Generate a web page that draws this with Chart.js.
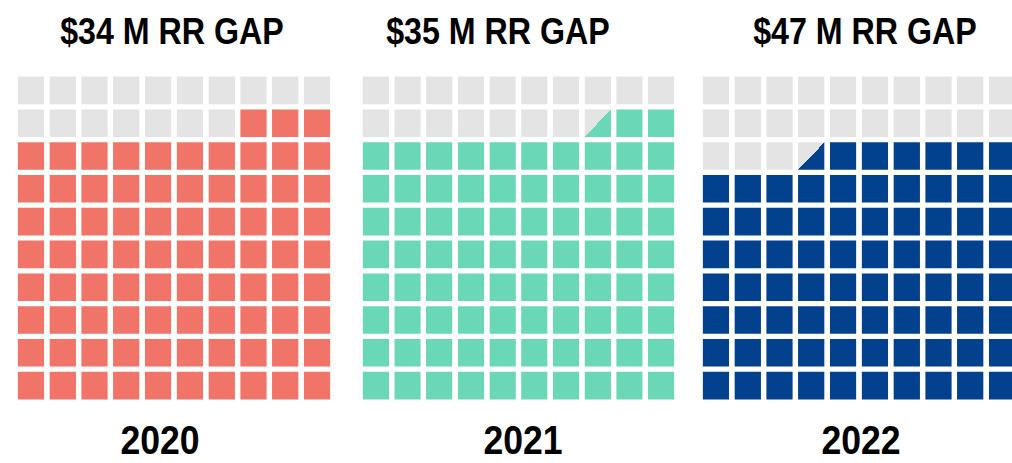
<!DOCTYPE html>
<html>
<head>
<meta charset="utf-8">
<script src="https://cdn.jsdelivr.net/npm/chart.js@4"></script>
<style>
  html, body { margin: 0; padding: 0; background: #fff; overflow: hidden; width: 1012px; height: 463px; }
  .wrap { position: absolute; }
  .lbl { position: absolute; width: 400px; text-align: center; font-family: "Liberation Sans", Arial, sans-serif; font-weight: bold; color: #000; white-space: nowrap; transform-origin: 50% 50%; }
  .title { font-size: 37px; line-height: 37px; transform: scaleX(0.87); }
  .year { font-size: 40px; line-height: 40px; transform: scaleX(0.89); }
</style>
</head>
<body>
<script>
// ---- data ----
const years = ["2020", "2021", "2022"];
const titles = ["$34 M RR GAP", "$35 M RR GAP", "$47 M RR GAP"];
const waffleValues = [83, 82.5, 76.5];   // filled cells out of 100
const seriesColors = ["#F07468", "#6AD8B6", "#02418E"];
const emptyColor = "#E4E4E4";
const columns = ["1", "2", "3", "4", "5", "6", "7", "8", "9", "10"];
const rowCount = 10;

// ---- layout (pixels) ----
const chartBoxes = [
  { left: 15, top: 74, width: 318, height: 328 },
  { left: 360, top: 74, width: 317, height: 328 },
  { left: 700, top: 74, width: 318, height: 328 }
];
const titleCenters = [172, 498, 865];
const yearCenters = [160, 523, 861];
const rowGap = 2.6;    // white border top/bottom of each cell
const barPct = 0.835;

function addLabel(text, cls, cx, top) {
  const d = document.createElement('div');
  d.className = 'lbl ' + cls;
  d.textContent = text;
  d.style.left = (cx - 200) + 'px';
  d.style.top = top + 'px';
  document.body.appendChild(d);
}

years.forEach((yr, gi) => {
  const box = chartBoxes[gi];
  const wrap = document.createElement('div');
  wrap.className = 'wrap';
  wrap.style.left = box.left + 'px';
  wrap.style.top = box.top + 'px';
  const cv = document.createElement('canvas');
  cv.width = box.width; cv.height = box.height;
  cv.style.width = box.width + 'px'; cv.style.height = box.height + 'px';
  wrap.appendChild(cv);
  document.body.appendChild(wrap);

  const value = waffleValues[gi];
  const color = seriesColors[gi];

  // cell order: fill from bottom row upward, right to left inside each row
  function cellRank(row, col) { return row * columns.length + (columns.length - 1 - col); }

  const datasets = [];
  for (let r = 0; r < rowCount; r++) {
    datasets.push({
      label: 'row ' + (r + 1),
      data: columns.map(() => 1),
      stack: 'waffle',
      borderColor: '#ffffff',
      borderWidth: { top: rowGap, bottom: rowGap, left: 0, right: 0 },
      borderSkipped: false,
      borderRadius: 0,
      backgroundColor: (ctx) => {
        const col = ctx.dataIndex;
        const k = cellRank(r, col);
        if (value >= k + 1) return color;
        if (value <= k) return emptyColor;
        // partial cell: diagonal split (lower-right triangle filled)
        const chart = ctx.chart;
        const xs = chart.scales.x, ys = chart.scales.y;
        if (!xs || !ys || !chart.chartArea) return emptyColor;
        const cw = (chart.chartArea.right - chart.chartArea.left) / columns.length * barPct;
        const cx = xs.getPixelForValue(col);
        const top = ys.getPixelForValue(r + 1) + rowGap;
        const bottom = ys.getPixelForValue(r) - rowGap;
        const h = bottom - top, w = cw;
        const mx = cx, my = (top + bottom) / 2;
        const g = chart.ctx.createLinearGradient(mx - h / 2, my - w / 2, mx + h / 2, my + w / 2);
        const frac = value - k;
        const stop = 1 - frac;
        g.addColorStop(0, emptyColor);
        g.addColorStop(stop, emptyColor);
        g.addColorStop(stop, color);
        g.addColorStop(1, color);
        return g;
      }
    });
  }

  new Chart(cv, {
    type: 'bar',
    data: { labels: columns, datasets },
    options: {
      responsive: false,
      animation: false,
      devicePixelRatio: 1,
      layout: { padding: 0 },
      barPercentage: barPct,
      categoryPercentage: 1,
      plugins: { legend: { display: false }, tooltip: { enabled: false }, title: { display: false } },
      scales: {
        x: { display: false, stacked: true, offset: true },
        y: { display: false, stacked: true, min: 0, max: rowCount }
      }
    }
  });

  addLabel(titles[gi], 'title', titleCenters[gi], 13);
  addLabel(yr, 'year', yearCenters[gi], 420);
});
</script>
</body>
</html>
